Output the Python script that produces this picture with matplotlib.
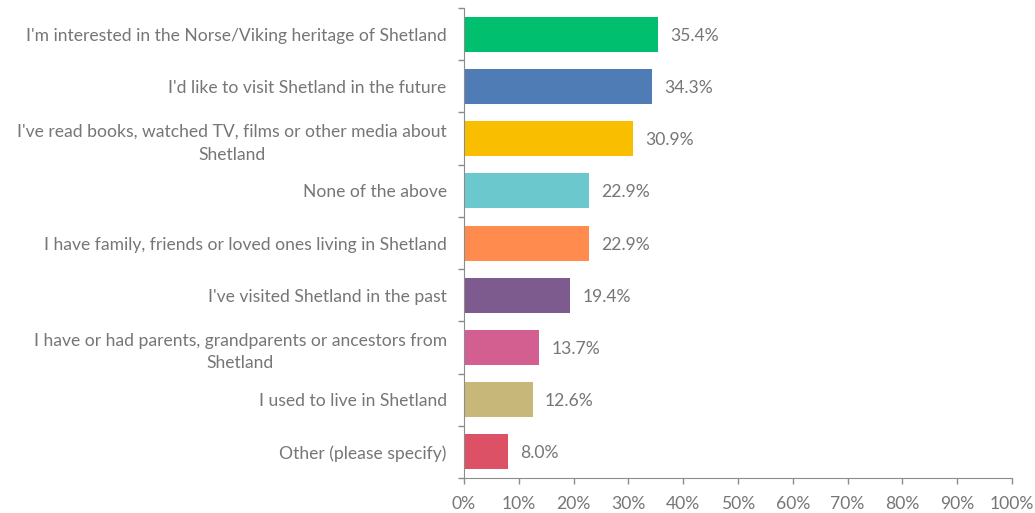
import matplotlib
matplotlib.use("Agg")
import matplotlib.pyplot as plt
import numpy as np

categories = [
    "I'm interested in the Norse/Viking heritage of Shetland",
    "I'd like to visit Shetland in the future",
    "I've read books, watched TV, films or other media about\nShetland",
    "None of the above",
    "I have family, friends or loved ones living in Shetland",
    "I've visited Shetland in the past",
    "I have or had parents, grandparents or ancestors from\nShetland",
    "I used to live in Shetland",
    "Other (please specify)",
]
values = [35.4, 34.3, 30.9, 22.9, 22.9, 19.4, 13.7, 12.6, 8.0]
colors = ["#00BF6F", "#507CB6", "#F9BE00", "#6BC8CD", "#FF8B4F",
          "#7D5B8F", "#D25F90", "#C7B879", "#DC5166"]

text_color = "#767676"
axis_color = "#8C8C8C"
fs = 12.6
plt.rcParams['font.family'] = ['Lato', 'DejaVu Sans']

fig = plt.figure(figsize=(10.35, 5.13), dpi=100)
ax = fig.add_axes([0.4483, 0.0682, 0.9778 - 0.4483, 0.9844 - 0.0682])

y = np.arange(len(categories))
ax.barh(y, values, height=0.67, color=colors)
for yi, v in zip(y, values):
    ax.text(v + 2.2, yi + 0.03, "{:.1f}%".format(v), va="center", ha="left",
            fontsize=fs, color=text_color)

ax.set_xlim(0, 100)
ax.set_ylim(len(categories) - 0.5, -0.5)
ax.set_xticks(np.arange(0, 101, 10))
ax.set_xticklabels(["{}%".format(t) for t in range(0, 101, 10)])
ax.set_yticks(y)
ax.set_yticklabels(categories)
for lbl in ax.get_yticklabels():
    lbl.set_multialignment("center")
    lbl.set_linespacing(1.5)
ax.set_yticks(np.arange(-0.5, len(categories)), minor=True)

ax.tick_params(axis="y", which="major", length=0, pad=12.5, labelsize=fs,
               labelcolor=text_color)
ax.tick_params(axis="y", which="minor", length=4, color=axis_color, width=1)
ax.tick_params(axis="x", length=4, color=axis_color, width=1, pad=9,
               labelsize=fs, labelcolor=text_color)

for side in ["top", "right"]:
    ax.spines[side].set_visible(False)
for side in ["left", "bottom"]:
    ax.spines[side].set_color(axis_color)

fig.savefig("out.png", dpi=100)
